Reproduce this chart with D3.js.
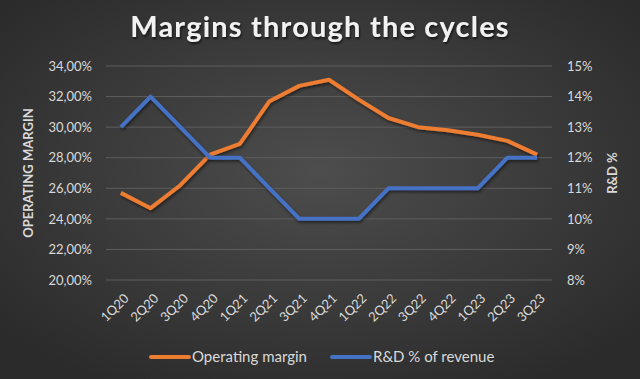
<!DOCTYPE html>
<html><head><meta charset="utf-8">
<script src="https://cdn.jsdelivr.net/npm/d3@7"></script>
<style>body{margin:0;background:#3a3a3a;}svg{display:block;}</style>
</head><body>
<script>
const categories = ["1Q20","2Q20","3Q20","4Q20","1Q21","2Q21","3Q21","4Q21","1Q22","2Q22","3Q22","4Q22","1Q23","2Q23","3Q23"];
const operatingMargin = [25.7,24.7,26.2,28.2,28.9,31.7,32.7,33.1,31.8,30.6,30.0,29.8,29.5,29.1,28.2];
const rdPercent = [13,14,13,12,12,11,10,10,10,11,11,11,11,12,12];
const leftTicks = [20,22,24,26,28,30,32,34];
const rightTicks = [8,9,10,11,12,13,14,15];
const title = "Margins through the cycles";
const seriesNames = ["Operating margin","R&D % of revenue"];

const W=640,H=379;
const font = "Lato, 'Open Sans', sans-serif";
const svg = d3.select("body").append("svg").attr("width",W).attr("height",H);
const defs = svg.append("defs");
const rg = defs.append("radialGradient").attr("id","bg").attr("cx","50%").attr("cy","45%").attr("r","65%");
rg.append("stop").attr("offset","0%").attr("stop-color","#4d4d4d");
rg.append("stop").attr("offset","100%").attr("stop-color","#2b2b2b");
const f = defs.append("filter").attr("id","sh").attr("x","-10%").attr("y","-10%").attr("width","120%").attr("height","130%");
f.append("feDropShadow").attr("dx",1).attr("dy",2).attr("stdDeviation",1.5).attr("flood-color","#000").attr("flood-opacity",0.5);
const ft = defs.append("filter").attr("id","tsh");
ft.append("feDropShadow").attr("dx",1).attr("dy",2).attr("stdDeviation",1.2).attr("flood-color","#000").attr("flood-opacity",0.6);

svg.append("rect").attr("width",W).attr("height",H).attr("fill","url(#bg)");

const x = d3.scalePoint().domain(categories).range([106,552]).padding(0.5);
const yL = d3.scaleLinear().domain([20,34]).range([280,66]);
const yR = d3.scaleLinear().domain([8,15]).range([280,66]);

// gridlines
svg.append("g").selectAll("line").data(leftTicks).join("line")
  .attr("x1",106).attr("x2",552).attr("y1",d=>yL(d)).attr("y2",d=>yL(d))
  .attr("stroke","#5e5e5e").attr("stroke-width",1);

// left axis
const la = svg.append("g").attr("transform","translate(106,0)")
  .call(d3.axisLeft(yL).tickValues(leftTicks).tickSize(0).tickPadding(14)
    .tickFormat(d=>d.toFixed(2).replace(".",",")+"%"));
la.select(".domain").remove();
la.selectAll("text").attr("fill","#d9d9d9").style("font-family",font).style("font-size","13px");

// right axis
const ra = svg.append("g").attr("transform","translate(552,0)")
  .call(d3.axisRight(yR).tickValues(rightTicks).tickSize(0).tickPadding(15)
    .tickFormat(d=>d+"%"));
ra.select(".domain").remove();
ra.selectAll("text").attr("fill","#d9d9d9").style("font-family",font).style("font-size","13px");

// x axis
const xa = svg.append("g").attr("transform","translate(0,280)")
  .call(d3.axisBottom(x).tickSize(0));
xa.select(".domain").remove();
xa.selectAll("text").attr("fill","#d9d9d9").style("font-family",font).style("font-size","13px")
  .attr("text-anchor","end").attr("dy","0.35em").attr("transform","translate(5,16) rotate(-45)").attr("y",0).attr("x",0);

// lines
const lineL = d3.line().x((d,i)=>x(categories[i])).y(d=>yL(d));
const lineR = d3.line().x((d,i)=>x(categories[i])).y(d=>yR(d));
svg.append("path").datum(operatingMargin).attr("d",lineL).attr("fill","none")
  .attr("stroke","#ED7D31").attr("stroke-width",4).attr("stroke-linejoin","round").attr("filter","url(#sh)");
svg.append("path").datum(rdPercent).attr("d",lineR).attr("fill","none")
  .attr("stroke","#4472C4").attr("stroke-width",4).attr("stroke-linejoin","round").attr("filter","url(#sh)");

// title
svg.append("text").attr("x",320).attr("y",37).attr("text-anchor","middle")
  .attr("fill","#f2f2f2").style("font-family",font).style("font-weight","bold").style("font-size","29px")
  .style("letter-spacing","1.2px")
  .attr("filter","url(#tsh)").text(title);

// axis titles
svg.append("text").attr("transform","translate(33,173) rotate(-90)").attr("text-anchor","middle")
  .attr("fill","#d9d9d9").style("font-family",font).style("font-weight","bold").style("font-size","13px").text("OPERATING MARGIN");
svg.append("text").attr("transform","translate(617,173) rotate(-90)").attr("text-anchor","middle")
  .attr("fill","#d9d9d9").style("font-family",font).style("font-weight","bold").style("font-size","13px").text("R&D %");

// legend
const leg = [{n:seriesNames[0],c:"#ED7D31",x:151},{n:seriesNames[1],c:"#4472C4",x:332}];
const lg = svg.append("g").selectAll("g").data(leg).join("g").attr("transform",d=>`translate(${d.x},357)`);
lg.append("line").attr("x1",0).attr("x2",38).attr("stroke",d=>d.c).attr("stroke-width",4).attr("stroke-linecap","round");
lg.append("text").attr("x",41).attr("dy","0.35em").attr("fill","#d9d9d9").style("font-family",font).style("font-size","15px").text(d=>d.n);
</script>
</body></html>
